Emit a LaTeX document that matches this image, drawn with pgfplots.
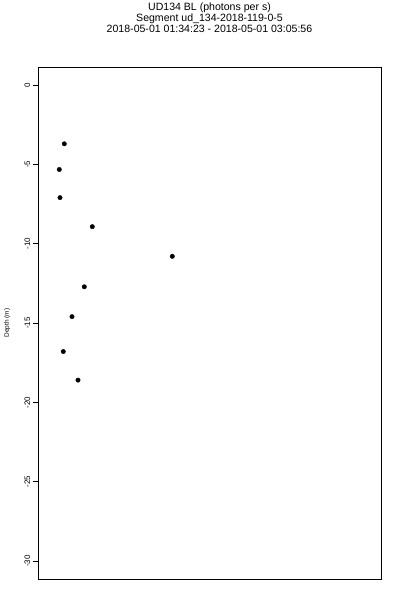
\documentclass[border=0pt]{standalone}
\usepackage{fontspec}
\setmainfont{Liberation Sans}
\usepackage{pgfplots}
\pgfplotsset{compat=1.18}
\begin{document}
\begin{tikzpicture}[x=1bp,y=1bp]
\useasboundingbox (0,0) rectangle (400,600);
\begin{axis}[
  at={(38bp,21bp)}, anchor=south west, scale only axis,
  width=343bp, height=512bp,
  xmin=38, xmax=381, ymin=-31.13, ymax=1.13,
  xtick=\empty, ytick={-30,-25,...,0}, ytick pos=left,
  tick align=outside, major tick length=5bp,
  axis line style={line width=0.7bp},
  every tick/.style={line width=0.6bp, black},
  yticklabel style={rotate=90, anchor=south, inner sep=2.5pt, font=\fontsize{8}{9}\selectfont},
  /pgf/number format/assume math mode=true,
  ylabel={Depth (m)},
  ylabel style={at={(axis description cs:-0.09,0.5)}, anchor=center, font=\fontsize{6.5}{7}\selectfont},
]
\addplot[only marks, mark=*, mark size=2.2bp, black] coordinates {
(64.3,-3.71)
(59.3,-5.33)
(60.0,-7.10)
(92.3,-8.93)
(172.3,-10.80)
(84.3,-12.72)
(72.0,-14.60)
(63.3,-16.80)
(78.0,-18.60)
};
\end{axis}
\node[align=center, font=\fontsize{10.6}{11}\selectfont] at (209.5,582) {UD134 BL (photons per s)\\Segment ud\_134-2018-119-0-5\\2018-05-01 01:34:23 - 2018-05-01 03:05:56};
\end{tikzpicture}
\end{document}
